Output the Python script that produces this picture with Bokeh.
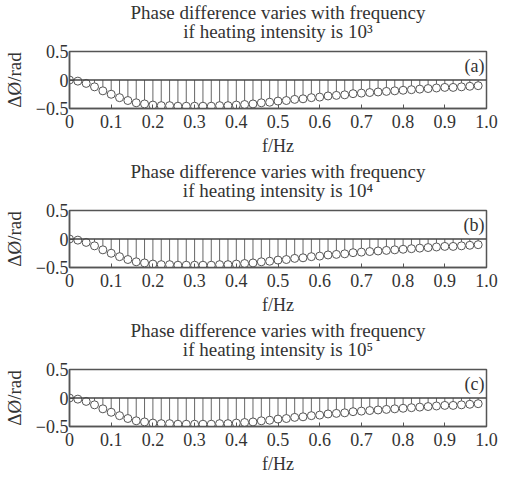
from bokeh.plotting import figure
from bokeh.layouts import column
from bokeh.models import Span, Label, FixedTicker, Title
from bokeh.embed import file_html
from bokeh.resources import INLINE

freq = [0.00, 0.02, 0.04, 0.06, 0.08, 0.10, 0.12, 0.14, 0.16, 0.18,
        0.20, 0.22, 0.24, 0.26, 0.28, 0.30, 0.32, 0.34, 0.36, 0.38,
        0.40, 0.42, 0.44, 0.46, 0.48, 0.50, 0.52, 0.54, 0.56, 0.58,
        0.60, 0.62, 0.64, 0.66, 0.68, 0.70, 0.72, 0.74, 0.76, 0.78,
        0.80, 0.82, 0.84, 0.86, 0.88, 0.90, 0.92, 0.94, 0.96, 0.98]

phase_a = [0.00, -0.02, -0.06, -0.12, -0.19, -0.25, -0.31, -0.36, -0.40, -0.42,
           -0.44, -0.45, -0.45, -0.46, -0.46, -0.46, -0.46, -0.46, -0.45, -0.45,
           -0.44, -0.43, -0.42, -0.40, -0.39, -0.37, -0.36, -0.34, -0.33, -0.31,
           -0.30, -0.28, -0.27, -0.26, -0.24, -0.23, -0.22, -0.21, -0.20, -0.19,
           -0.18, -0.17, -0.16, -0.15, -0.14, -0.13, -0.13, -0.12, -0.11, -0.10]

phase_b = [0.00, -0.02, -0.06, -0.12, -0.19, -0.25, -0.31, -0.36, -0.40, -0.42,
           -0.44, -0.45, -0.45, -0.46, -0.46, -0.46, -0.46, -0.46, -0.45, -0.45,
           -0.44, -0.43, -0.42, -0.40, -0.39, -0.37, -0.36, -0.34, -0.33, -0.31,
           -0.30, -0.28, -0.27, -0.26, -0.24, -0.23, -0.22, -0.21, -0.20, -0.19,
           -0.18, -0.17, -0.16, -0.15, -0.14, -0.13, -0.13, -0.12, -0.11, -0.10]

phase_c = [0.00, -0.02, -0.06, -0.12, -0.19, -0.25, -0.31, -0.36, -0.40, -0.42,
           -0.44, -0.45, -0.45, -0.46, -0.46, -0.46, -0.46, -0.46, -0.45, -0.45,
           -0.44, -0.43, -0.42, -0.40, -0.39, -0.37, -0.36, -0.34, -0.33, -0.31,
           -0.30, -0.28, -0.27, -0.26, -0.24, -0.23, -0.22, -0.21, -0.20, -0.19,
           -0.18, -0.17, -0.16, -0.15, -0.14, -0.13, -0.13, -0.12, -0.11, -0.10]

title_line1 = "Phase difference varies with frequency"
title_line2 = ["if heating intensity is 10\u00b3",
               "if heating intensity is 10\u2074",
               "if heating intensity is 10\u2075"]
panel_tags = ["(a)", "(b)", "(c)"]
x_ticks = [0, 0.1, 0.2, 0.3, 0.4, 0.5, 0.6, 0.7, 0.8, 0.9, 1.0]
x_tick_labels = ["0", "0.1", "0.2", "0.3", "0.4", "0.5", "0.6", "0.7", "0.8", "0.9", "1.0"]
y_ticks = [-0.5, 0, 0.5]
y_tick_labels = ["\u22120.5", "0", "0.5"]

FONT = "Liberation Serif"
TXT = "#333333"
LINE = "#555555"


def style_title(t):
    t.align = "center"
    t.text_font = FONT
    t.text_font_style = "normal"
    t.text_font_size = "19px"
    t.text_color = TXT


def panel(values, line2, tag):
    p = figure(width=512, height=159, output_backend="svg", toolbar_location=None,
               x_range=(0, 1), y_range=(-0.5, 0.5),
               min_border_left=68, min_border_right=26,
               min_border_top=51, min_border_bottom=51)
    p.title.text = title_line1
    style_title(p.title)
    p.title.standoff = -28
    t2 = Title(text=line2)
    style_title(t2)
    t2.standoff = 20
    p.add_layout(t2, "above")

    p.grid.visible = False
    p.outline_line_color = LINE
    p.outline_line_width = 1.5

    for ax in (p.xaxis[0], p.yaxis[0]):
        ax.major_label_text_font = FONT
        ax.major_label_text_font_size = "18px"
        ax.major_label_text_color = TXT
        ax.axis_label_text_font = FONT
        ax.axis_label_text_font_size = "18px"
        ax.axis_label_text_font_style = "normal"
        ax.axis_label_text_color = TXT
        ax.axis_line_color = LINE
        ax.axis_line_width = 1.5
        ax.major_tick_line_color = LINE
        ax.major_tick_in = 4
        ax.major_tick_out = 0
        ax.minor_tick_line_color = None
        ax.major_label_standoff = 3

    p.xaxis.ticker = FixedTicker(ticks=x_ticks)
    p.xaxis.major_label_overrides = {t: l for t, l in zip(x_ticks, x_tick_labels)}
    p.xaxis.major_label_standoff = 6
    p.yaxis.ticker = FixedTicker(ticks=y_ticks)
    p.yaxis.major_label_overrides = {t: l for t, l in zip(y_ticks, y_tick_labels)}
    p.yaxis.major_label_standoff = 1
    p.xaxis.axis_label = "f/Hz"
    p.xaxis.axis_label_standoff = 5
    p.yaxis.axis_label = "\u0394\u00d8/rad"
    p.yaxis.axis_label_text_font_size = "19px"
    p.yaxis.axis_label_standoff = 8

    p.add_layout(Span(location=0, dimension="width", line_color="#444444", line_width=1.5))
    p.segment(x0=freq, y0=[0] * len(freq), x1=freq, y1=values,
              line_color="#666666", line_width=1)
    p.scatter(freq, values, marker="circle", size=8, fill_color="white",
              line_color="#555555", line_width=1)
    p.add_layout(Label(x=0.995, y=0.42, text=tag, text_align="right",
                       text_baseline="top", text_font=FONT,
                       text_font_size="18px", text_color=TXT))
    return p


plots = [panel(v, t, g) for v, t, g in zip([phase_a, phase_b, phase_c], title_line2, panel_tags)]
layout = column(*plots, spacing=0)

open("out.html", "w").write(file_html(layout, INLINE))
